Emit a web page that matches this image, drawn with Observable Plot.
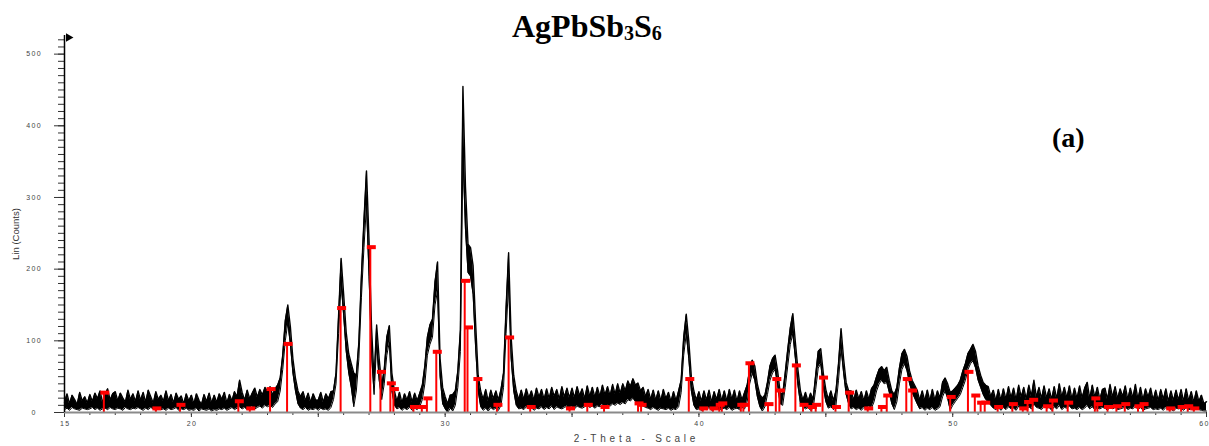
<!DOCTYPE html>
<html>
<head>
<meta charset="utf-8">
<script src="https://cdn.jsdelivr.net/npm/d3@7"></script>
<script src="https://cdn.jsdelivr.net/npm/@observablehq/plot@0.6"></script>
<style>
  html, body { margin: 0; padding: 0; background: #fff; }
  #wrap { position: relative; width: 1209px; height: 446px; overflow: hidden; }
  #title { position: absolute; left: 512px; top: 10px; font-family: "Liberation Serif", "Times New Roman", serif; font-weight: bold; font-size: 32px; line-height: 32px; color: #000; white-space: nowrap; }
  #title sub { font-size: 20px; vertical-align: baseline; position: relative; top: 3px; }
  #label { position: absolute; left: 1052px; top: 124px; font-family: "Liberation Serif", "Times New Roman", serif; font-weight: bold; font-size: 28px; line-height: 28px; color: #000; }
  #ylab { position: absolute; left: 15px; top: 234px; transform: translate(-50%, -50%) rotate(-90deg); font-family: "Liberation Sans", Arial, sans-serif; font-size: 9.5px; color: #333; white-space: nowrap; }
</style>
</head>
<body>
<div id="wrap">
  <div id="chart"></div>
  <div id="title">AgPbSb<sub>3</sub>S<sub>6</sub></div>
  <div id="label">(a)</div>
  <div id="ylab">Lin (Counts)</div>
</div>
<script>
// ---- Measured pattern, 2-theta 15.0 .. 60.0 in 0.1° steps (one row per degree) ----
// upper and lower edge of the noisy trace
const thetaStart = 15;
const thetaStep = 0.1;
const countsHigh = [
  14,26,12,24,18,11,28,16,22,13, // 15
  25,15,27,19,30,14,24,33,17,26, // 16
  29,16,27,20,14,31,18,26,15,30, // 17
  17,28,14,31,22,13,29,18,24,15, // 18
  30,16,25,13,27,18,23,12,26,16, // 19
  24,12,26,17,11,25,15,27,13,24, // 20
  14,26,18,28,13,25,16,29,22,45, // 21
  28,17,31,19,27,34,21,32,24,35, // 22
  29,36,24,33,38,48,80,128,150,120, // 23
  75,48,30,22,29,16,27,14,26,17, // 24
  17,28,14,26,19,29,30,55,135,215, // 25
  165,112,82,68,55,52,98,190,268,337, // 26
  240,118,45,122,75,38,60,105,121,55, // 27
  30,15,28,13,26,17,29,14,27,16, // 28
  27,38,65,105,122,130,182,210,75,35, // 29
  22,12,24,25,30,58,115,455,315,235, // 30
  230,205,125,52,30,18,32,15,31,19, // 31
  30,17,32,55,145,223,105,52,30,18, // 32
  31,18,33,20,30,17,34,21,32,18, // 33
  33,19,35,22,32,18,36,21,34,20, // 34
  34,20,36,23,33,19,37,22,35,21, // 35
  35,22,38,24,36,23,39,25,40,26, // 36
  40,30,44,36,47,38,41,30,35,22, // 37
  32,18,31,17,30,16,32,19,28,15, // 38
  29,16,30,45,105,137,100,50,30,17, // 39
  29,15,30,17,31,14,29,18,32,16, // 40
  30,16,32,18,31,15,30,17,28,38, // 41
  60,73,65,40,25,20,24,42,65,75, // 42
  80,58,28,25,55,88,118,138,98,60, // 43
  30,17,28,15,27,18,52,85,89,55, // 44
  32,18,30,16,30,68,117,75,42,30, // 45
  30,17,31,19,29,16,30,18,33,38, // 46
  50,60,64,58,63,45,30,25,35,62, // 47
  82,88,78,58,45,38,31,17,30,16, // 48
  31,16,32,17,30,20,42,48,40,28, // 49
  30,34,38,45,58,68,82,88,95,85, // 50
  65,52,42,38,36,22,31,16,32,17, // 51
  33,18,36,20,34,17,38,21,35,18, // 52
  38,22,45,21,35,19,37,20,33,18, // 53
  36,19,40,21,35,20,37,18,34,19, // 54
  37,20,34,42,19,38,21,35,18,32, // 55
  34,18,39,21,36,19,33,22,37,18, // 56
  34,20,39,18,35,17,33,21,34,17, // 57
  31,16,32,18,33,15,30,16,31,17, // 58
  32,15,33,16,29,14,30,15,24,12, // 59
  15 // 60
];
const countsLow = [
  4,6,3,7,5,4,3,6,5,4, // 15
  5,7,4,6,3,5,6,4,7,5, // 16
  4,6,5,3,7,5,4,6,5,7, // 17
  5,3,6,4,7,5,3,6,4,5, // 18
  3,6,4,5,7,3,5,4,6,3, // 19
  4,3,6,2,5,4,3,5,2,4, // 20
  3,5,4,6,3,5,7,4,6,8, // 21
  5,7,4,6,8,5,7,9,6,10, // 22
  8,10,7,12,15,30,60,100,125,95, // 23
  55,30,12,6,4,7,3,5,4,6, // 24
  3,6,4,5,3,7,18,40,110,180, // 25
  135,85,55,35,8,30,75,160,230,290, // 26
  190,80,25,95,45,18,40,80,98,30, // 27
  10,5,7,3,6,4,7,3,6,4, // 28
  8,18,40,80,95,105,150,170,50,12, // 29
  5,0,6,2,10,35,85,360,255,195, // 30
  190,165,90,30,8,3,6,2,7,4, // 31
  6,3,10,35,110,180,75,30,10,5, // 32
  6,4,8,5,7,3,6,5,8,4, // 33
  7,5,9,4,8,6,5,7,9,6, // 34
  8,5,9,7,6,8,10,7,9,6, // 35
  9,8,11,7,10,9,12,10,13,11, // 36
  14,12,18,16,20,15,13,11,9,7, // 37
  6,4,7,5,3,6,5,4,6,3, // 38
  5,4,8,28,80,110,75,30,10,4, // 39
  5,3,6,4,7,3,5,6,4,5, // 40
  6,4,7,3,5,6,4,7,5,15, // 41
  40,55,45,22,8,2,8,25,45,55, // 42
  60,38,12,10,35,65,95,110,75,38, // 43
  12,8,5,7,3,6,32,62,68,35, // 44
  15,6,8,4,10,45,90,55,25,12, // 45
  5,7,4,6,3,7,5,8,6,15, // 46
  30,40,45,40,42,28,12,4,15,40, // 47
  60,68,58,40,28,20,12,5,7,3, // 48
  6,4,7,3,5,8,22,30,20,3, // 49
  10,15,20,25,35,45,60,68,72,62, // 50
  45,35,25,18,15,10,6,4,7,3, // 51
  7,4,8,5,6,3,9,5,7,4, // 52
  8,5,12,7,6,4,9,6,7,3, // 53
  8,5,10,4,7,6,9,5,6,4, // 54
  7,4,6,10,5,8,4,6,5,7, // 55
  6,3,9,5,7,4,5,6,8,4, // 56
  6,5,9,4,7,3,5,6,7,4, // 57
  5,4,6,3,7,4,5,2,6,5, // 58
  6,3,7,4,5,3,6,4,3,2, // 59
  2 // 60
];

// ---- Reference (PDF card) line positions and intensities ----
const refTheta = [16.55,18.6,19.55,21.85,22.3,23.1,23.77,25.88,27.05,27.45,27.84,27.96,28.75,29.08,29.28,29.65,
  30.77,30.88,31.25,32.04,32.5,33.35,34.9,35.6,36.26,37.6,37.72,39.6,40.15,40.55,40.8,40.9,41.65,41.75,41.97,
  42.72,43.03,43.17,43.8,44.1,44.43,44.6,44.87,45.38,45.9,46.65,47.19,47.4,48.17,48.38,49.9,50.6,50.87,51.1,
  51.26,51.77,52.35,52.76,52.95,53.15,53.7,53.93,54.53,55.6,55.7,56.1,56.45,56.78,57.3,57.5,58.55,59.0,59.26,59.5];
const refCounts = [27,5,10,15,5,32,95,145,230,56,40,32,7,7,19,84,
  183,118,46,10,104,7,5,10,7,12,10,46,5,5,10,12,10,10,68,
  11,46,30,65,10,7,10,48,7,27,5,7,23,46,30,21,56,23,13,
  13,7,11,5,14,17,8,16,13,19,11,7,8,11,8,11,5,7,8,5];

// ---- Axis ticks ----
const xMajorTicks = [15,20,25,30,35,40,45,50,55,60];
const xTickLabels = [15,20,30,40,50,60];
const xMinorTicks = d3.range(15, 61, 1);
const yMajorTicks = [0,100,200,300,400,500];
const yMinorTicks = d3.range(0, 521, 10);
const xTitle = "2-Theta - Scale";

const pattern = countsHigh.map((c, i) => ({theta: +(thetaStart + i * thetaStep).toFixed(2), hi: c, lo: countsLow[i]}));
const refs = refTheta.map((t, i) => ({theta: t, c: refCounts[i]}));

const spaced = s => String(s).split("").join("\u2009");
const lastLabel = xTickLabels[xTickLabels.length - 1];

const plot = Plot.plot({
  width: 1209,
  height: 446,
  marginLeft: 64,
  marginRight: 3,
  marginTop: 35,
  marginBottom: 34,
  style: {fontFamily: "'Liberation Sans', Arial, sans-serif", background: "#fff", overflow: "visible"},
  x: {domain: [15, 60]},
  y: {domain: [0, 526]},
  marks: [
    // ticks
    Plot.axisX({ticks: xMinorTicks, tickSize: 3, tickFormat: () => "", stroke: "#333", strokeWidth: 1, label: null}),
    Plot.axisX({ticks: xMajorTicks, tickSize: 5, tickFormat: () => "", stroke: "#333", strokeWidth: 1, label: null}),
    Plot.text(xTickLabels.filter(d => d !== lastLabel), {x: d => d, frameAnchor: "bottom", dy: 13, text: d => spaced(d), fontSize: 7, fill: "#444"}),
    Plot.text([lastLabel], {x: d => d, frameAnchor: "bottom", dy: 13, dx: 2, textAnchor: "end", text: d => spaced(d), fontSize: 7, fill: "#444"}),
    Plot.text([xTitle], {frameAnchor: "bottom", dx: 1, dy: 29, fontSize: 10, fill: "#444"}),
    Plot.axisY({ticks: yMinorTicks, tickSize: 6, tickFormat: () => "", stroke: "#333", strokeWidth: 1, label: null}),
    Plot.axisY({ticks: yMajorTicks, tickSize: 10, tickPadding: 21, textAnchor: "middle",
      tickFormat: d => spaced(d), fontSize: 7, fill: "#444", stroke: "#333", strokeWidth: 1, label: null}),
    // measured pattern (noisy band between lower and upper edge)
    Plot.areaY(pattern, {x: "theta", y1: "lo", y2: "hi", fill: "#000"}),
    Plot.line(pattern, {x: "theta", y: "hi", stroke: "#000", strokeWidth: 1.4}),
    Plot.line(pattern, {x: "theta", y: "lo", stroke: "#000", strokeWidth: 1}),
    // reference sticks
    Plot.ruleX(refs, {x: "theta", y1: 0, y2: "c", stroke: "#ff0000", strokeWidth: 2}),
    Plot.rect(refs, {x1: "theta", x2: "theta", y1: "c", y2: "c", insetLeft: -3, insetRight: -6, insetTop: -2, insetBottom: -2, fill: "#ff0000"}),
    // axis lines
    Plot.ruleY([0], {stroke: "#8a8a8a", strokeWidth: 2}),
    Plot.ruleX([15], {y1: 0, y2: 526, stroke: "#000", strokeWidth: 1.5}),
    Plot.dot([0], {frameAnchor: "top-left", dx: 4, dy: 2, symbol: "triangle", rotate: 90, r: 3.2, fill: "#000", stroke: null})
  ]
});

d3.select(plot).selectAll("text").filter(function() { return this.textContent === xTitle; }).style("letter-spacing", "3.8px");
document.getElementById("chart").appendChild(plot);
</script>
</body>
</html>
